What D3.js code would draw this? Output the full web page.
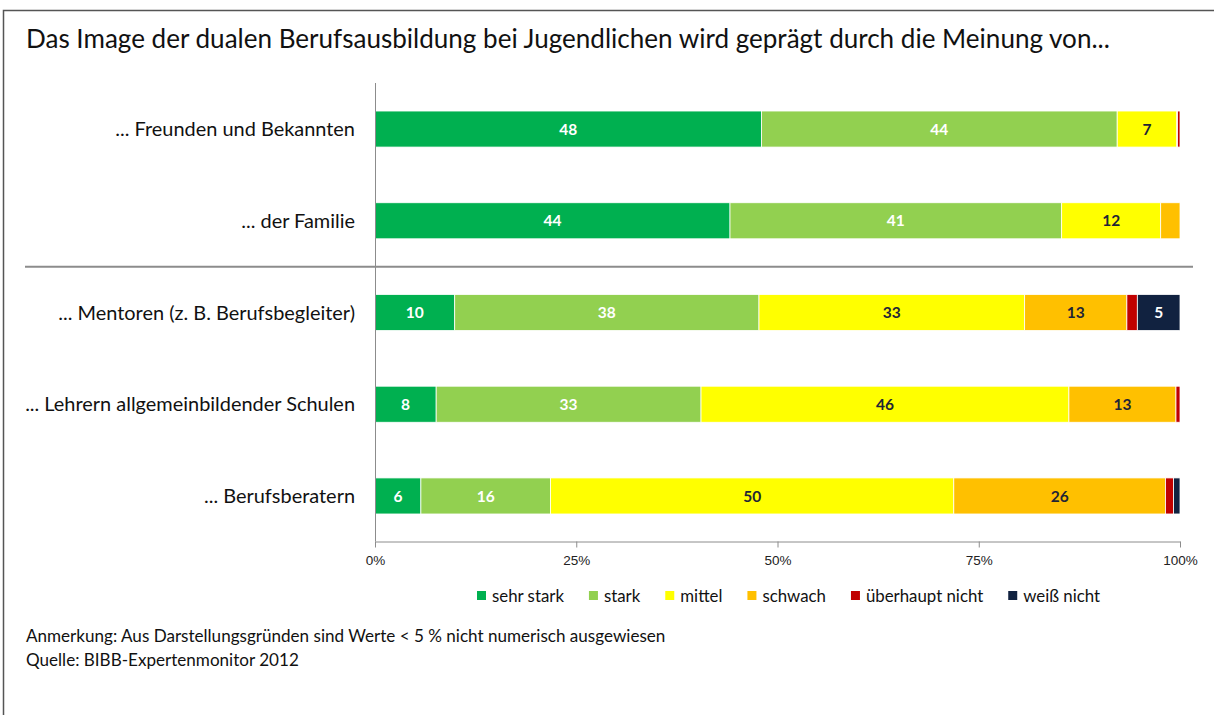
<!DOCTYPE html>
<html lang="de">
<head>
    <meta charset="UTF-8">
    <title>Image der dualen Berufsausbildung</title>
    <script src="https://d3js.org/d3.v7.min.js"></script>
    <style>
        body { margin: 0; background: #fff; }
        svg { font-family: Lato, "Open Sans", sans-serif; display: block; }
        .axis-text { font-size: 13.5px; fill: #222; }
        .seg-label { font-size: 15.5px; font-weight: bold; text-anchor: middle; }
    </style>
</head>
<body>
    <script>
        var w = 1214;
        var h = 715;

        var categories = [
            "... Freunden und Bekannten",
            "... der Familie",
            "... Mentoren (z. B. Berufsbegleiter)",
            "... Lehrern allgemeinbildender Schulen",
            "... Berufsberatern"
        ];
        var seriesNames = ["sehr stark", "stark", "mittel", "schwach", "überhaupt nicht", "weiß nicht"];
        var seriesColors = ["#00b050", "#92d050", "#ffff00", "#ffc000", "#c00000", "#112240"];
        var labelColors = ["#fff", "#fff", "#1f2535", "#1f2535", "#fff", "#fff"];

        // one array per series, in the order of the categories
        var sehrStark = [48.0, 44.1, 9.9, 7.6, 5.7];
        var stark = [44.2, 41.2, 37.8, 32.9, 16.1];
        var mittel = [7.4, 12.3, 33.0, 45.7, 50.1];
        var schwach = [0.1, 2.4, 12.7, 13.3, 26.3];
        var ueberhauptNicht = [0.3, 0.0, 1.3, 0.5, 1.0];
        var weissNicht = [0.0, 0.0, 5.3, 0.0, 0.8];

        var tickValues = [0, 25, 50, 75, 100];

        var title = "Das Image der dualen Berufsausbildung bei Jugendlichen wird geprägt durch die Meinung von...";
        var note1 = "Anmerkung: Aus Darstellungsgründen sind Werte < 5 % nicht numerisch ausgewiesen";
        var note2 = "Quelle: BIBB-Expertenmonitor 2012";

        var seriesValues = [sehrStark, stark, mittel, schwach, ueberhauptNicht, weissNicht];

        var table = categories.map(function (c, i) {
            var row = { cat: c };
            seriesNames.forEach(function (s, j) { row[s] = seriesValues[j][i]; });
            return row;
        });

        var stacked = d3.stack().keys(seriesNames)(table);

        var svg = d3.select("body").append("svg")
            .attr("width", w)
            .attr("height", h);

        svg.append("rect").attr("width", w).attr("height", h).attr("fill", "#fff");

        // frame
        svg.append("path")
            .attr("d", "M3.5," + h + "V10.5H" + w)
            .attr("fill", "none")
            .attr("stroke", "#555")
            .attr("stroke-width", 1.5);

        function fitSize(sel, targetWidth) {
            var size = parseFloat(sel.style("font-size"));
            var len = sel.node().getComputedTextLength();
            return size * targetWidth / len;
        }

        var titleText = svg.append("text")
            .attr("x", 26)
            .attr("y", 48)
            .style("font-size", "22px")
            .style("fill", "#111")
            .text(title);
        titleText.style("font-size", fitSize(titleText, 1084) + "px");

        var xScale = d3.scaleLinear()
            .domain([0, 100])
            .range([375, 1180]);

        var yScale = d3.scaleBand()
            .domain(categories)
            .range([83.5, 541.5])
            .paddingInner(0.607)
            .paddingOuter(0.3);

        // bars
        var layers = svg.selectAll(".layer")
            .data(stacked)
            .enter()
            .append("g")
            .attr("class", "layer")
            .attr("fill", function (d, i) { return seriesColors[i]; });

        layers.selectAll("rect")
            .data(function (d) { return d; })
            .enter()
            .append("rect")
            .attr("x", function (d) { return xScale(d[0]); })
            .attr("y", function (d) { return yScale(d.data.cat); })
            .attr("width", function (d) { return Math.max(0, xScale(d[1]) - xScale(d[0])); })
            .attr("height", yScale.bandwidth())
            .attr("stroke", "#fff")
            .attr("stroke-width", 0.8);

        layers.each(function (layer, i) {
            d3.select(this).selectAll("text")
                .data(layer.filter(function (d) { return d[1] - d[0] >= 5; }))
                .enter()
                .append("text")
                .attr("class", "seg-label")
                .attr("x", function (d) { return (xScale(d[0]) + xScale(d[1])) / 2; })
                .attr("y", function (d) { return yScale(d.data.cat) + yScale.bandwidth() / 2; })
                .attr("dy", "0.36em")
                .style("fill", labelColors[i])
                .text(function (d) { return Math.round(d[1] - d[0]); });
        });

        // x axis
        var xAxis = d3.axisBottom(xScale)
            .tickValues(tickValues)
            .tickSize(6)
            .tickSizeOuter(0)
            .tickPadding(8)
            .tickFormat(function (d) { return d + "%"; });

        var gx = svg.append("g")
            .attr("transform", "translate(0,541.5)")
            .call(xAxis);
        gx.select(".domain").attr("stroke", "#8c8c8c");
        gx.selectAll(".tick line").attr("stroke", "#8c8c8c");
        gx.selectAll(".tick text").attr("class", "axis-text").attr("font-family", null).attr("font-size", null);

        // y axis line
        svg.append("line")
            .attr("x1", 375.5).attr("x2", 375.5)
            .attr("y1", 83).attr("y2", 541.5)
            .attr("stroke", "#8c8c8c");

        // category labels
        var catLabels = svg.selectAll(".cat-label")
            .data(categories)
            .enter()
            .append("text")
            .attr("class", "cat-label")
            .attr("x", 355)
            .attr("y", function (d) { return yScale(d) + yScale.bandwidth() / 2; })
            .attr("dy", "0.36em")
            .attr("text-anchor", "end")
            .style("font-size", "16px")
            .style("fill", "#111")
            .text(function (d) { return d; });
        var catSize = fitSize(catLabels.filter(function (d, i) { return i === 3; }), 330);
        catLabels.style("font-size", catSize + "px");

        // separator between the two groups
        var sepY = (yScale(categories[1]) + yScale.bandwidth() + yScale(categories[2])) / 2;
        svg.append("line")
            .attr("x1", 25).attr("x2", 1193)
            .attr("y1", sepY).attr("y2", sepY)
            .attr("stroke", "#8c8c8c")
            .attr("stroke-width", 2);

        // legend
        var legend = svg.append("g").attr("transform", "translate(477,596)");
        var probe = legend.append("text").style("font-size", "15px").text(seriesNames[0]);
        var legendSize = fitSize(probe, 72);
        probe.remove();
        var lx = 0;
        seriesNames.forEach(function (s, i) {
            var item = legend.append("g").attr("transform", "translate(" + lx + ",0)");
            item.append("rect")
                .attr("x", 0).attr("y", -5)
                .attr("width", 9).attr("height", 9)
                .attr("fill", seriesColors[i]);
            var t = item.append("text")
                .attr("x", 15)
                .attr("dy", "0.36em")
                .style("font-size", legendSize + "px")
                .style("fill", "#111")
                .text(s);
            lx += 15 + t.node().getComputedTextLength() + 25;
        });

        // notes
        var n1 = svg.append("text")
            .attr("x", 26).attr("y", 642)
            .style("font-size", "15px")
            .style("fill", "#111")
            .text(note1);
        n1.style("font-size", fitSize(n1, 640) + "px");

        svg.append("text")
            .attr("x", 26).attr("y", 666)
            .style("font-size", n1.style("font-size"))
            .style("fill", "#111")
            .text(note2);
    </script>
</body>
</html>
